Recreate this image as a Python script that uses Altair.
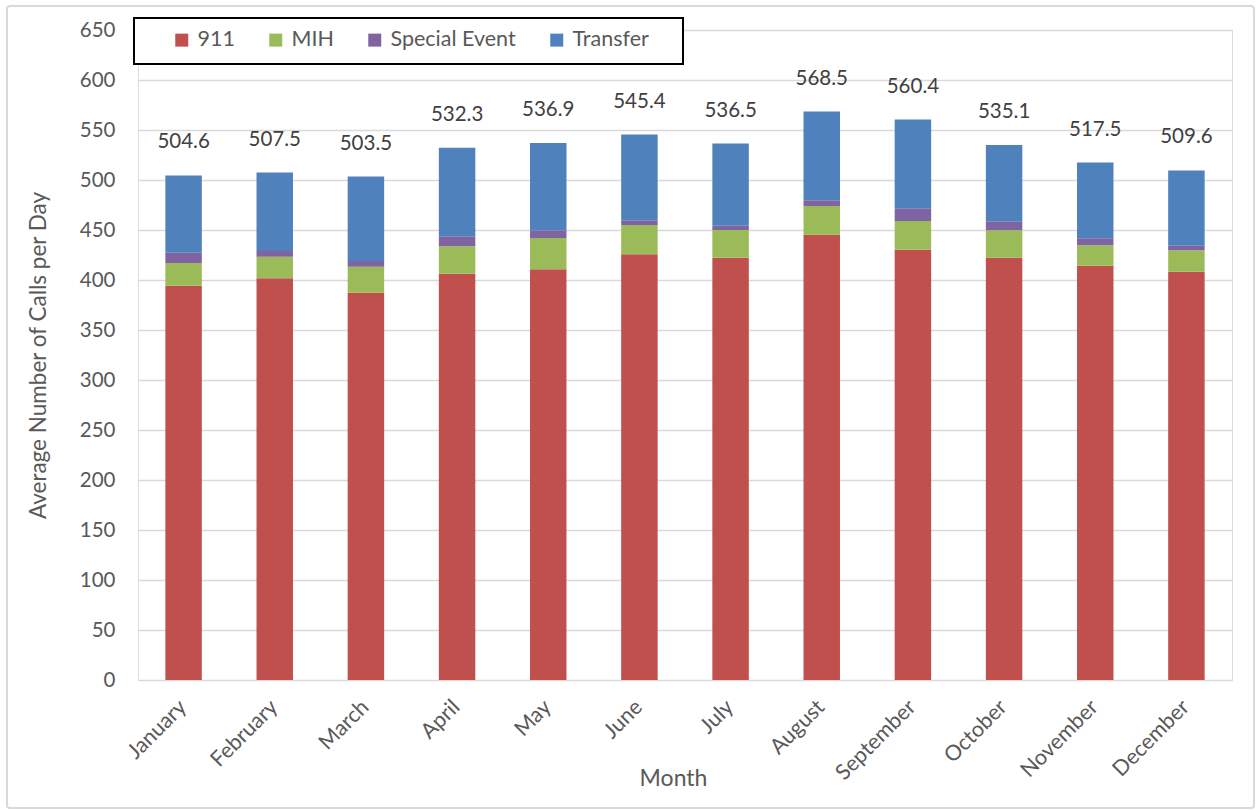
import altair as alt
import pandas as pd

# Average number of calls per day, by month and call type
months = ["January", "February", "March", "April", "May", "June",
          "July", "August", "September", "October", "November", "December"]
series = ["911", "MIH", "Special Event", "Transfer"]
colors = ["#C0504D", "#9BBB59", "#8064A2", "#4F81BD"]

calls_911 = [394.3, 401.7, 387.3, 406.3, 410.7, 425.7, 422.3, 445.3, 430.3, 422.3, 414.3, 408.3]
calls_mih = [22.7, 21.6, 26.0, 27.4, 31.3, 29.3, 27.7, 28.7, 28.7, 27.4, 20.4, 21.4]
calls_special = [10.3, 5.7, 5.7, 10.0, 7.7, 4.7, 4.3, 5.7, 12.7, 8.6, 7.0, 4.6]
calls_transfer = [77.3, 78.5, 84.5, 88.6, 87.2, 85.7, 82.2, 88.8, 88.7, 76.8, 75.8, 75.3]

FONT = "Lato"
TEXT = "#595959"

rows = []
for name, vals in zip(series, [calls_911, calls_mih, calls_special, calls_transfer]):
    for m, v in zip(months, vals):
        rows.append({"Month": m, "Type": name, "Calls": v, "order": series.index(name)})
df = pd.DataFrame(rows)

x_enc = alt.X(
    "Month:N", sort=months,
    scale=alt.Scale(paddingInner=0.6, paddingOuter=0.3),
    axis=alt.Axis(title="Month", labelAngle=-45, labelFontSize=21.5, titleFontSize=23,
                  labelColor=TEXT, titleColor=TEXT, labelFont=FONT, titleFont=FONT,
                  titleFontWeight="normal", ticks=False, domain=False, grid=False,
                  labelPadding=16, labelOffset=-8,
                  titleY=98, titleBaseline="middle", titleX=535),
)

bars = alt.Chart(df).mark_bar().encode(
    x=x_enc,
    y=alt.Y("Calls:Q", stack="zero",
            scale=alt.Scale(domain=[0, 650], nice=False),
            axis=alt.Axis(title="Average Number of Calls per Day", values=list(range(0, 651, 50)),
                          labelFontSize=20.5, titleFontSize=22.5, labelColor=TEXT, titleColor=TEXT,
                          labelFont=FONT, titleFont=FONT, titleFontWeight="normal",
                          ticks=False, tickSize=0, domain=False, labelPadding=23,
                          titlePadding=29, gridColor="#D9D9D9", gridWidth=1.5)),
    color=alt.Color("Type:N", sort=series,
                    scale=alt.Scale(domain=series, range=colors),
                    legend=alt.Legend(title=None, orient="none", direction="horizontal",
                                      legendX=33, legendY=-1, padding=0,
                                      symbolType="square", symbolSize=169, symbolStrokeWidth=0,
                                      labelFontSize=21.5, labelFont=FONT, labelColor=TEXT,
                                      labelOffset=5, columnPadding=30)),
    order=alt.Order("order:Q", sort="ascending"),
)

totals = alt.Chart(df).mark_text(
    baseline="bottom", dy=-23, fontSize=20.5, font=FONT, color="#404040"
).encode(
    x=alt.X("Month:N", sort=months),
    y=alt.Y("sum(Calls):Q"),
    text=alt.Text("sum(Calls):Q", format=".1f"),
)

# legend frame
legend_box = alt.Chart(pd.DataFrame({"k": [0]})).mark_rect(
    fill="white", stroke="black", strokeWidth=2
).encode(x=alt.value(-4), x2=alt.value(545), y=alt.value(-12), y2=alt.value(34))

# outer chart frame
frame = alt.Chart(pd.DataFrame({"k": [0]})).mark_rect(
    fill=None, stroke="#D9D9D9", strokeWidth=2, cornerRadius=3
).encode(x=alt.value(-131), x2=alt.value(1116), y=alt.value(-24), y2=alt.value(778))

chart = alt.layer(bars, totals, legend_box, frame).properties(
    width=1094, height=650,
    autosize=alt.AutoSizeParams(type="none"),
    padding={"left": 138, "top": 30, "right": 26, "bottom": 130},
).configure_view(stroke=None).configure(background="white")

chart.save("out.html", embed_options={"renderer": "svg", "actions": False})
